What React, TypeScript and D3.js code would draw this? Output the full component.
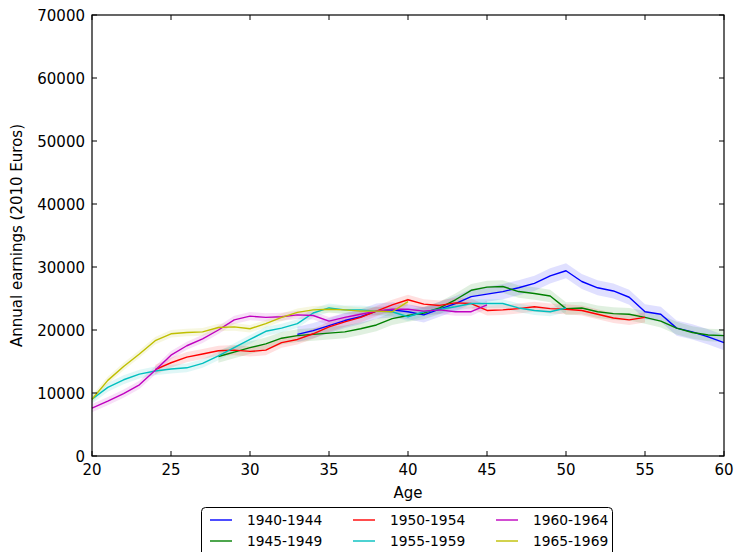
import React from "react";
import * as d3 from "d3";

const seriesNames = ["1940-1944", "1945-1949", "1950-1954", "1955-1959", "1960-1964", "1965-1969"];
const seriesColors = ["#0000ff", "#008000", "#ff0000", "#00bfbf", "#bf00bf", "#bfbf00"];
const startAges = [33, 28, 24, 20, 20, 20];

const earnings1940 = [19300, 19900, 20700, 21500, 22100, 23000, 23200, 22900, 22400, 23300, 24200, 25300, 25700, 26100, 26700, 27400, 28600, 29400, 27700, 26700, 26200, 25200, 22900, 22500, 20300, 19700, 18900, 18000];
const earnings1945 = [15800, 16500, 17200, 17800, 18700, 19100, 19300, 19500, 19700, 20200, 20800, 21800, 22300, 22700, 23500, 24800, 26300, 26800, 26900, 26100, 25800, 25400, 23400, 23500, 22900, 22600, 22500, 22000, 21400, 20300, 19600, 19200, 19100];
const earnings1950 = [13700, 14800, 15700, 16200, 16700, 16800, 16600, 16800, 18000, 18500, 19400, 20500, 21300, 22000, 23000, 24000, 24800, 24100, 23900, 24300, 24200, 23100, 23200, 23400, 23700, 23400, 23300, 23100, 22500, 21900, 21600, 22000];
const earnings1955 = [9000, 10900, 12100, 13000, 13500, 13800, 14000, 14700, 15900, 17200, 18500, 19800, 20300, 21000, 22700, 23500, 23200, 23200, 23000, 22900, 22100, 22900, 23300, 23700, 24200, 24200, 24200, 23500, 23100, 22900, 23500];
const earnings1960 = [7600, 8700, 9900, 11300, 13600, 16000, 17500, 18600, 20000, 21600, 22200, 22000, 22100, 22400, 22300, 21400, 22000, 22500, 23000, 23300, 23300, 23000, 23200, 22900, 22900, 24000];
const earnings1965 = [9000, 12000, 14200, 16200, 18300, 19400, 19600, 19700, 20400, 20500, 20200, 21000, 22000, 22800, 23200, 23300, 23200, 23000, 23000, 22900, 24500];
const bandHalfWidths = [1200, 1000, 800, 700, 650, 600];

const xTicks = [20, 25, 30, 35, 40, 45, 50, 55, 60];
const yTicks = [0, 10000, 20000, 30000, 40000, 50000, 60000, 70000];

const allEarnings = [earnings1940, earnings1945, earnings1950, earnings1955, earnings1960, earnings1965];

export default function App() {
  const W = 737, H = 552;
  const left = 92, right = 724, top = 15, bottom = 456;
  const x = d3.scaleLinear().domain([20, 60]).range([left, right]);
  const y = d3.scaleLinear().domain([0, 70000]).range([bottom, top]);
  const font = "DejaVu Sans, sans-serif";

  const series = allEarnings.map((vals, i) =>
    vals.map((v, j) => ({ age: startAges[i] + j, v }))
  );
  const line = d3.line<{ age: number; v: number }>().x(d => x(d.age)).y(d => y(d.v));
  const area = (hw: number) =>
    d3.area<{ age: number; v: number }>().x(d => x(d.age)).y0(d => y(d.v - hw)).y1(d => y(d.v + hw));

  const legendCols = [201, 344, 487];
  const legendRows = [520, 541];

  return (
    <svg width={W} height={H} style={{ position: "absolute", left: 0, top: 0, background: "#fff" }} fontFamily={font}>
      <rect x={0} y={0} width={W} height={H} fill="#fff" />
      {series.map((s, i) => (
        <path key={"b" + i} d={area(bandHalfWidths[i])(s) || ""} fill={seriesColors[i]} fillOpacity={0.12} stroke="none" />
      ))}
      {series.map((s, i) => (
        <path key={"l" + i} d={line(s) || ""} fill="none" stroke={seriesColors[i]} strokeWidth={1.4} strokeLinejoin="round" />
      ))}
      <rect x={left} y={top} width={right - left} height={bottom - top} fill="none" stroke="#000" strokeWidth={1.2} />
      {xTicks.map(t => (
        <g key={"x" + t}>
          <line x1={x(t)} x2={x(t)} y1={bottom} y2={bottom - 5} stroke="#000" />
          <line x1={x(t)} x2={x(t)} y1={top} y2={top + 5} stroke="#000" />
          <text x={x(t)} y={bottom + 19} fontSize={15} textAnchor="middle">{t}</text>
        </g>
      ))}
      {yTicks.map(t => (
        <g key={"y" + t}>
          <line x1={left} x2={left + 5} y1={y(t)} y2={y(t)} stroke="#000" />
          <line x1={right} x2={right - 5} y1={y(t)} y2={y(t)} stroke="#000" />
          <text x={left - 7} y={y(t) + 5.5} fontSize={15} textAnchor="end">{t}</text>
        </g>
      ))}
      <text x={(left + right) / 2} y={498} fontSize={15} textAnchor="middle">Age</text>
      <text transform={`translate(22, ${(top + bottom) / 2}) rotate(-90)`} fontSize={15} textAnchor="middle">Annual earnings (2010 Euros)</text>
      <rect x={201.5} y={507.5} width={411} height={56} rx={4} fill="#fff" stroke="#000" strokeWidth={1} />
      {seriesNames.map((name, i) => {
        const col = Math.floor(i / 2);
        const row = i % 2;
        const cx = legendCols[col];
        const cy = legendRows[row];
        return (
          <g key={name}>
            <line x1={cx + 9} x2={cx + 31} y1={cy} y2={cy} stroke={seriesColors[i]} strokeWidth={1.4} />
            <text x={cx + 46} y={cy + 5} fontSize={13.8}>{name}</text>
          </g>
        );
      })}
    </svg>
  );
}
